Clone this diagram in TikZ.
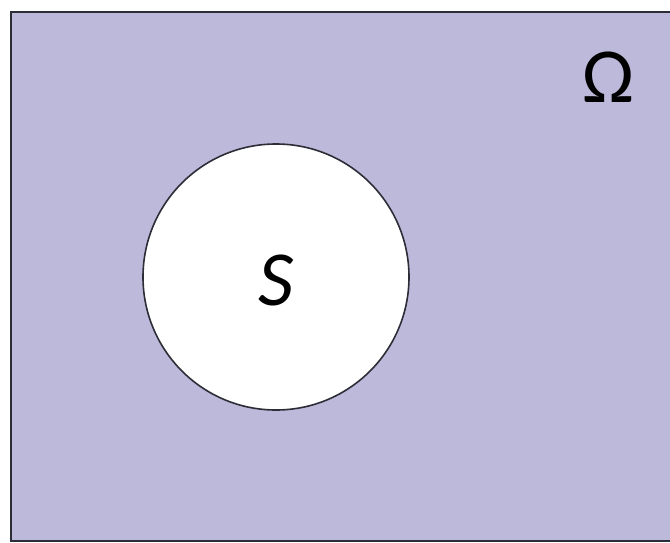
\documentclass[tikz,border=0pt]{standalone}
\usepackage{fontspec}
\setmainfont{Carlito}
\definecolor{omegafill}{RGB}{189,185,219}
\definecolor{edge}{RGB}{45,45,55}
\begin{document}
\begin{tikzpicture}[x=1pt,y=-1pt,
  labeltext/.style={inner sep=0pt, font=\fontsize{78}{86}\selectfont}]
\useasboundingbox (0,0) rectangle (670,542);
\fill[white] (0,0) rectangle (670,542);
\draw[edge, line width=2pt, fill=omegafill] (11,12) rectangle (676,541);
\node[circle, draw=edge, line width=1.6pt, fill=white, minimum size=266pt, inner sep=0pt] (S) at (276,277) {};
\node[labeltext] (Slabel) at (276,280) {\itshape S};
\node[labeltext] (Omega) at (608,77) {Ω};
\end{tikzpicture}
\end{document}
